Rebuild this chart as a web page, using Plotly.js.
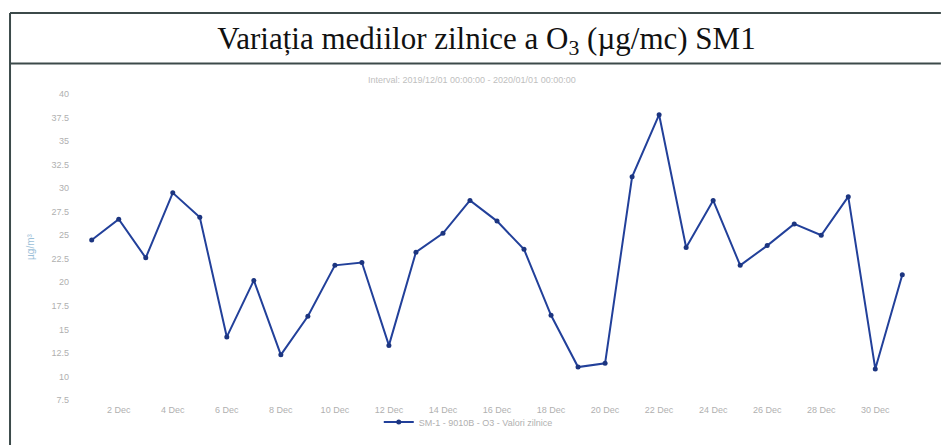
<!DOCTYPE html>
<html>
<head>
<meta charset="utf-8">
<script src="https://cdn.plot.ly/plotly-3.0.1.min.js"></script>
<style>html,body{margin:0;padding:0;background:#fff;}#chart{width:941px;height:445px;}</style>
</head>
<body>
<div id="chart"></div>
<script>
const dates = ["2019-12-01","2019-12-02","2019-12-03","2019-12-04","2019-12-05","2019-12-06","2019-12-07","2019-12-08","2019-12-09","2019-12-10",
"2019-12-11","2019-12-12","2019-12-13","2019-12-14","2019-12-15","2019-12-16","2019-12-17","2019-12-18","2019-12-19","2019-12-20",
"2019-12-21","2019-12-22","2019-12-23","2019-12-24","2019-12-25","2019-12-26","2019-12-27","2019-12-28","2019-12-29","2019-12-30","2019-12-31"];
const o3Values = [24.5,26.7,22.6,29.5,26.9,14.2,20.2,12.3,16.4,21.8,
22.1,13.3,23.2,25.2,28.7,26.5,23.5,16.5,11.0,11.4,
31.2,37.8,23.7,28.7,21.8,23.9,26.2,25.0,29.1,10.8,20.8];
const xTickVals = ["2019-12-02","2019-12-04","2019-12-06","2019-12-08","2019-12-10","2019-12-12","2019-12-14","2019-12-16","2019-12-18","2019-12-20","2019-12-22","2019-12-24","2019-12-26","2019-12-28","2019-12-30"];
const xTickText = ["2 Dec","4 Dec","6 Dec","8 Dec","10 Dec","12 Dec","14 Dec","16 Dec","18 Dec","20 Dec","22 Dec","24 Dec","26 Dec","28 Dec","30 Dec"];
const yTickVals = [7.5,10,12.5,15,17.5,20,22.5,25,27.5,30,32.5,35,37.5,40];
const seriesName = "SM-1 - 9010B - O3 - Valori zilnice";

const trace = {
  x: dates, y: o3Values, type: "scatter", mode: "lines+markers", name: seriesName,
  line: {color: "#22409a", width: 2},
  marker: {color: "#1c3580", size: 5}
};
const layout = {
  width: 941, height: 445,
  margin: {l: 80, r: 26, t: 94, b: 45, autoexpand: false},
  paper_bgcolor: "#fff", plot_bgcolor: "#fff",
  font: {family: "Liberation Sans, Arial, sans-serif", color: "#b0b0b0", size: 9},
  title: {text: "Variația mediilor zilnice a O<sub>3</sub> (µg/mc) SM1",
    font: {family: "Liberation Serif, Times New Roman, serif", size: 31, color: "#111"},
    x: 0.517, xanchor: "center", y: 0.915, yanchor: "middle"},
  xaxis: {type: "date", range: ["2019-11-30 13:36", "2019-12-31 11:17"],
    tickvals: xTickVals, ticktext: xTickText, showgrid: false, zeroline: false, showline: false,
    ticks: "", ticklabelstandoff: 3, tickfont: {size: 9, color: "#b0b0b0"}, automargin: false},
  yaxis: {range: [7.5, 40], tickvals: yTickVals, ticktext: yTickVals.map(String),
    showgrid: false, zeroline: false, showline: false, ticks: "",
    ticklabelstandoff: 10, automargin: false,
    tickfont: {size: 9, color: "#b0b0b0"},
    title: {text: "µg/m³", font: {size: 10, color: "#9cc0d8"}, standoff: 14}},
  showlegend: true,
  legend: {orientation: "h", x: 0.465, xanchor: "center", y: -0.072, yanchor: "middle",
    bgcolor: "rgba(0,0,0,0)", font: {size: 9, color: "#b0b0b0"}},
  annotations: [{text: "Interval: 2019/12/01 00:00:00 - 2020/01/01 00:00:00", xref: "paper", yref: "paper",
    x: 0.47, y: 1.045, xanchor: "center", yanchor: "middle", showarrow: false,
    font: {size: 9, color: "#c0c0c0"}}],
  shapes: [
    {type: "line", xref: "paper", yref: "paper", x0: -0.0838, x1: 1.031, y0: 1.265, y1: 1.265, line: {color: "#3c4a4a", width: 2}},
    {type: "line", xref: "paper", yref: "paper", x0: -0.0838, x1: 1.031, y0: 1.1, y1: 1.1, line: {color: "#3c4a4a", width: 2}},
    {type: "line", xref: "paper", yref: "paper", x0: -0.0838, x1: -0.0838, y0: 1.265, y1: -0.147, line: {color: "#3c4a4a", width: 2}}
  ]
};
Plotly.newPlot("chart", [trace], layout, {displayModeBar: false});
</script>
</body>
</html>
